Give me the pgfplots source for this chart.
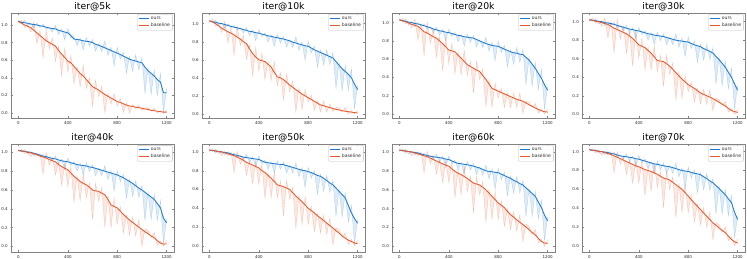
\documentclass[border=0pt]{standalone}
\usepackage{fontspec}
\setmainfont{DejaVu Sans}
\usepackage{pgfplots}
\usepackage{pgfplotstable}
\usepgfplotslibrary{fillbetween}
\pgfplotsset{compat=1.18}
\definecolor{cours}{RGB}{28,121,205}
\definecolor{cbase}{RGB}{232,86,40}
\definecolor{cframe}{RGB}{130,130,130}

\pgfplotstableread{
x om on bm bn
0 1.04 1.058 1.04 1.02
25 1.03 1.018 1.02 1.056
50 1.025 1.055 1.00 0.97
75 1.02 0.988 0.985 0.997
100 1.01 1.022 0.97 0.92
125 1.005 0.965 0.94 1.036
150 1.00 1.021 0.91 0.785
175 0.99 0.974 0.88 0.94
200 0.985 1.012 0.85 0.625
225 0.975 0.951 0.82 0.94
250 0.965 0.974 0.80 0.725
275 0.96 0.92 0.78 0.852
300 0.955 0.995 0.76 0.585
325 0.94 0.89 0.71 0.758
350 0.93 0.955 0.67 0.42
375 0.92 0.83 0.63 0.738
400 0.91 0.96 0.59 0.465
425 0.88 0.85 0.57 0.654
450 0.84 0.87 0.53 0.33
475 0.835 0.765 0.49 0.526
500 0.83 0.85 0.45 0.30
525 0.82 0.72 0.42 0.54
550 0.815 0.86 0.38 0.28
575 0.81 0.76 0.34 0.40
600 0.80 0.835 0.30 0.075
625 0.78 0.70 0.28 0.376
650 0.77 0.785 0.26 0.185
675 0.755 0.695 0.235 0.307
700 0.74 0.82 0.21 0.0
725 0.725 0.653 0.19 0.222
750 0.71 0.75 0.17 0.10
775 0.695 0.533 0.15 0.222
800 0.68 0.744 0.13 0.08
825 0.665 0.611 0.12 0.168
850 0.645 0.693 0.105 0.005
875 0.63 0.45 0.09 0.114
900 0.61 0.642 0.08 0.0
925 0.60 0.474 0.075 0.096
950 0.59 0.662 0.065 0.047
975 0.58 0.49 0.06 0.09
1000 0.57 0.63 0.055 0.028
1025 0.52 0.22 0.045 0.06
1050 0.48 0.51 0.04 0.058
1075 0.45 0.21 0.03 0.021
1100 0.42 0.49 0.025 0.055
1125 0.38 0.20 0.02 0.0
1150 0.35 0.45 0.015 0.027
1175 0.23 0.0 0.01 0.0
1200 0.23 0.28 0.01 0.031
}\tA

\pgfplotstableread{
x om on bm bn
0 1.03 1.045 1.03 1.01
25 1.02 1.008 1.02 1.056
50 1.015 1.04 1.00 0.97
75 1.005 0.973 0.975 0.987
100 1.00 1.01 0.95 0.90
125 0.99 0.95 0.93 1.026
150 0.98 0.998 0.91 0.785
175 0.97 0.954 0.895 0.955
200 0.96 0.983 0.875 0.65
225 0.955 0.931 0.85 0.97
250 0.945 0.953 0.83 0.755
275 0.935 0.895 0.80 0.872
300 0.925 0.957 0.78 0.605
325 0.915 0.865 0.72 0.768
350 0.91 0.93 0.67 0.42
375 0.90 0.81 0.63 0.738
400 0.895 0.935 0.60 0.475
425 0.885 0.855 0.59 0.674
450 0.875 0.899 0.58 0.38
475 0.865 0.795 0.55 0.586
500 0.86 0.876 0.52 0.37
525 0.85 0.75 0.46 0.58
550 0.845 0.881 0.41 0.31
575 0.835 0.785 0.40 0.46
600 0.83 0.858 0.38 0.155
625 0.82 0.74 0.35 0.446
650 0.81 0.822 0.32 0.245
675 0.795 0.735 0.295 0.367
700 0.785 0.855 0.27 0.02
725 0.775 0.703 0.245 0.293
750 0.765 0.80 0.22 0.045
775 0.755 0.593 0.20 0.272
800 0.75 0.806 0.18 0.13
825 0.73 0.676 0.16 0.208
850 0.71 0.752 0.14 0.04
875 0.695 0.515 0.12 0.144
900 0.68 0.708 0.10 0.02
925 0.665 0.539 0.09 0.146
950 0.65 0.713 0.08 0.02
975 0.635 0.545 0.07 0.11
1000 0.62 0.68 0.06 0.024
1025 0.58 0.28 0.05 0.07
1050 0.54 0.57 0.045 0.069
1075 0.50 0.26 0.035 0.023
1100 0.47 0.54 0.03 0.07
1125 0.44 0.26 0.025 0.0
1150 0.40 0.50 0.02 0.036
1175 0.33 0.06 0.015 0.0
1200 0.27 0.32 0.01 0.038
}\tB

\pgfplotstableread{
x om on bm bn
0 1.03 1.045 1.03 1.014
25 1.02 1.008 1.02 1.047
50 1.015 1.04 1.01 0.986
75 1.005 0.973 0.995 1.004
100 1.00 1.01 0.98 0.94
125 0.99 0.95 0.97 1.04
150 0.985 1.003 0.96 0.81
175 0.975 0.959 0.93 0.99
200 0.965 0.988 0.90 0.63
225 0.955 0.931 0.885 1.005
250 0.945 0.953 0.865 0.775
275 0.93 0.89 0.845 0.917
300 0.92 0.952 0.83 0.62
325 0.91 0.86 0.80 0.848
350 0.905 0.925 0.77 0.47
375 0.895 0.805 0.735 0.843
400 0.89 0.93 0.70 0.55
425 0.88 0.85 0.69 0.774
450 0.87 0.894 0.68 0.44
475 0.86 0.79 0.645 0.681
500 0.855 0.871 0.61 0.43
525 0.845 0.745 0.575 0.695
550 0.84 0.876 0.54 0.42
575 0.835 0.785 0.52 0.58
600 0.83 0.858 0.50 0.23
625 0.815 0.735 0.48 0.576
650 0.80 0.812 0.465 0.375
675 0.785 0.725 0.42 0.492
700 0.77 0.84 0.38 0.08
725 0.76 0.688 0.33 0.378
750 0.75 0.785 0.28 0.07
775 0.745 0.583 0.265 0.337
800 0.74 0.796 0.25 0.175
825 0.725 0.671 0.235 0.283
850 0.71 0.752 0.22 0.07
875 0.695 0.515 0.205 0.229
900 0.68 0.708 0.19 0.07
925 0.67 0.544 0.175 0.231
950 0.665 0.728 0.16 0.07
975 0.655 0.565 0.15 0.23
1000 0.65 0.71 0.14 0.005
1025 0.62 0.32 0.12 0.145
1050 0.59 0.62 0.10 0.13
1075 0.545 0.305 0.085 0.07
1100 0.50 0.57 0.065 0.115
1125 0.445 0.265 0.05 0.01
1150 0.39 0.49 0.035 0.055
1175 0.32 0.05 0.025 0.0
1200 0.26 0.31 0.02 0.055
}\tC

\pgfplotstableread{
x om on bm bn
0 1.02 1.035 1.02 1.004
25 1.015 1.003 1.015 1.042
50 1.01 1.035 1.005 0.981
75 1.005 0.973 1.00 1.009
100 1.00 1.01 0.99 0.95
125 0.99 0.95 0.98 1.04
150 0.985 1.003 0.97 0.82
175 0.98 0.964 0.95 1.01
200 0.97 0.993 0.93 0.66
225 0.96 0.936 0.915 1.03
250 0.95 0.958 0.90 0.81
275 0.94 0.90 0.885 0.957
300 0.93 0.962 0.87 0.66
325 0.92 0.87 0.845 0.893
350 0.915 0.935 0.82 0.52
375 0.905 0.815 0.785 0.893
400 0.90 0.94 0.75 0.60
425 0.89 0.86 0.735 0.819
450 0.88 0.904 0.72 0.48
475 0.87 0.80 0.69 0.726
500 0.865 0.881 0.66 0.48
525 0.855 0.755 0.62 0.74
550 0.85 0.886 0.58 0.46
575 0.845 0.795 0.575 0.635
600 0.84 0.868 0.57 0.30
625 0.83 0.75 0.545 0.641
650 0.82 0.832 0.52 0.43
675 0.81 0.75 0.485 0.557
700 0.80 0.87 0.45 0.15
725 0.795 0.723 0.415 0.463
750 0.79 0.825 0.38 0.17
775 0.785 0.623 0.35 0.422
800 0.78 0.836 0.32 0.245
825 0.765 0.711 0.30 0.348
850 0.75 0.792 0.28 0.13
875 0.74 0.56 0.255 0.279
900 0.73 0.758 0.23 0.11
925 0.71 0.584 0.215 0.271
950 0.695 0.758 0.20 0.11
975 0.68 0.59 0.185 0.265
1000 0.66 0.72 0.17 0.035
1025 0.625 0.325 0.15 0.175
1050 0.59 0.62 0.13 0.16
1075 0.55 0.31 0.11 0.095
1100 0.51 0.58 0.09 0.14
1125 0.455 0.275 0.065 0.025
1150 0.40 0.50 0.04 0.06
1175 0.33 0.06 0.03 0.0
1200 0.26 0.31 0.02 0.055
}\tD

\pgfplotstableread{
x om on bm bn
0 1.02 1.032 1.02 1.004
25 1.015 1.006 1.015 1.033
50 1.01 1.03 1.01 0.986
75 1.005 0.981 1.00 1.006
100 1.00 1.008 0.995 0.955
125 0.99 0.96 0.985 1.001
150 0.98 0.994 0.975 0.955
175 0.97 0.958 0.96 0.99
200 0.96 0.978 0.95 0.77
225 0.955 0.937 0.94 1.00
250 0.945 0.951 0.925 0.865
275 0.935 0.905 0.91 0.946
300 0.93 0.962 0.90 0.76
325 0.92 0.87 0.87 0.894
350 0.91 0.93 0.85 0.65
375 0.905 0.815 0.83 0.884
400 0.90 0.94 0.815 0.64
425 0.89 0.86 0.78 0.85
450 0.88 0.904 0.745 0.465
475 0.87 0.80 0.72 0.75
500 0.865 0.881 0.69 0.48
525 0.86 0.76 0.67 0.77
550 0.855 0.891 0.655 0.515
575 0.845 0.795 0.63 0.68
600 0.84 0.868 0.60 0.285
625 0.83 0.75 0.59 0.67
650 0.82 0.832 0.585 0.48
675 0.81 0.75 0.565 0.625
700 0.80 0.86 0.55 0.20
725 0.79 0.71 0.50 0.54
750 0.78 0.81 0.44 0.195
775 0.77 0.59 0.425 0.515
800 0.76 0.808 0.41 0.235
825 0.745 0.685 0.375 0.423
850 0.73 0.766 0.34 0.14
875 0.71 0.51 0.31 0.334
900 0.69 0.714 0.28 0.12
925 0.67 0.53 0.255 0.311
950 0.645 0.699 0.23 0.11
975 0.62 0.52 0.205 0.285
1000 0.60 0.648 0.18 0.0
1025 0.575 0.275 0.155 0.185
1050 0.55 0.574 0.135 0.171
1075 0.525 0.285 0.11 0.092
1100 0.50 0.556 0.09 0.15
1125 0.455 0.275 0.06 0.012
1150 0.41 0.49 0.035 0.059
1175 0.30 0.03 0.025 0.0
1200 0.25 0.29 0.025 0.067
}\tE

\pgfplotstableread{
x om on bm bn
0 1.02 1.032 1.02 1.004
25 1.015 1.006 1.015 1.033
50 1.01 1.03 1.01 0.986
75 1.005 0.981 1.005 1.011
100 1.00 1.008 1.00 0.96
125 0.995 0.965 0.99 1.006
150 0.99 1.004 0.98 0.96
175 0.98 0.968 0.97 1.00
200 0.97 0.988 0.96 0.78
225 0.965 0.947 0.945 1.005
250 0.955 0.961 0.93 0.87
275 0.945 0.915 0.91 0.946
300 0.94 0.972 0.89 0.75
325 0.935 0.885 0.875 0.899
350 0.93 0.95 0.86 0.66
375 0.925 0.835 0.845 0.899
400 0.92 0.96 0.83 0.655
425 0.905 0.875 0.80 0.87
450 0.89 0.914 0.78 0.50
475 0.885 0.815 0.75 0.78
500 0.88 0.896 0.72 0.51
525 0.875 0.775 0.685 0.785
550 0.87 0.906 0.65 0.51
575 0.868 0.818 0.64 0.69
600 0.865 0.893 0.63 0.315
625 0.855 0.775 0.615 0.695
650 0.845 0.857 0.60 0.495
675 0.835 0.775 0.565 0.625
700 0.825 0.885 0.53 0.18
725 0.815 0.735 0.50 0.54
750 0.805 0.835 0.47 0.225
775 0.80 0.62 0.435 0.525
800 0.79 0.838 0.40 0.225
825 0.78 0.72 0.375 0.423
850 0.765 0.801 0.35 0.15
875 0.75 0.55 0.32 0.344
900 0.74 0.764 0.295 0.135
925 0.72 0.58 0.27 0.326
950 0.695 0.749 0.24 0.12
975 0.67 0.57 0.215 0.295
1000 0.65 0.698 0.19 0.01
1025 0.615 0.315 0.16 0.19
1050 0.58 0.604 0.135 0.171
1075 0.545 0.305 0.105 0.087
1100 0.51 0.566 0.08 0.14
1125 0.43 0.25 0.06 0.012
1150 0.35 0.43 0.045 0.069
1175 0.29 0.02 0.03 0.0
1200 0.24 0.28 0.02 0.062
}\tF

\pgfplotstableread{
x om on bm bn
0 1.02 1.032 1.02 1.004
25 1.015 1.006 1.015 1.033
50 1.01 1.03 1.01 0.986
75 1.005 0.981 1.005 1.011
100 1.00 1.008 1.00 0.96
125 0.995 0.965 0.99 1.006
150 0.99 1.004 0.98 0.96
175 0.98 0.968 0.97 1.00
200 0.97 0.988 0.96 0.78
225 0.965 0.947 0.95 1.01
250 0.955 0.961 0.935 0.875
275 0.95 0.92 0.92 0.956
300 0.945 0.977 0.905 0.765
325 0.94 0.89 0.89 0.914
350 0.935 0.955 0.875 0.675
375 0.925 0.835 0.86 0.914
400 0.92 0.96 0.85 0.675
425 0.905 0.875 0.82 0.89
450 0.89 0.914 0.795 0.515
475 0.88 0.81 0.775 0.805
500 0.875 0.891 0.76 0.55
525 0.87 0.77 0.74 0.84
550 0.865 0.901 0.72 0.58
575 0.858 0.808 0.695 0.745
600 0.85 0.878 0.67 0.355
625 0.84 0.76 0.66 0.74
650 0.83 0.842 0.65 0.545
675 0.815 0.755 0.625 0.685
700 0.80 0.86 0.60 0.25
725 0.795 0.715 0.565 0.605
750 0.79 0.82 0.53 0.285
775 0.785 0.605 0.495 0.585
800 0.78 0.828 0.46 0.285
825 0.765 0.705 0.435 0.483
850 0.75 0.786 0.41 0.21
875 0.735 0.535 0.37 0.394
900 0.72 0.744 0.335 0.175
925 0.70 0.56 0.31 0.366
950 0.685 0.739 0.28 0.16
975 0.665 0.565 0.255 0.335
1000 0.65 0.698 0.23 0.05
1025 0.62 0.32 0.205 0.235
1050 0.59 0.614 0.175 0.211
1075 0.56 0.32 0.145 0.127
1100 0.53 0.586 0.12 0.18
1125 0.47 0.29 0.085 0.037
1150 0.41 0.49 0.05 0.074
1175 0.33 0.06 0.035 0.0
1200 0.27 0.31 0.03 0.072
}\tG

\pgfplotstableread{
x om on bm bn
0 1.02 1.032 1.02 1.004
25 1.015 1.006 1.015 1.033
50 1.01 1.03 1.01 0.986
75 1.005 0.981 1.005 1.011
100 1.00 1.008 1.00 0.96
125 0.995 0.965 0.99 1.006
150 0.99 1.004 0.98 0.96
175 0.98 0.968 0.97 1.00
200 0.975 0.993 0.955 0.775
225 0.965 0.947 0.94 1.00
250 0.955 0.961 0.925 0.865
275 0.95 0.92 0.91 0.946
300 0.945 0.977 0.895 0.755
325 0.94 0.89 0.88 0.904
350 0.935 0.955 0.865 0.665
375 0.925 0.835 0.85 0.904
400 0.92 0.96 0.84 0.665
425 0.91 0.88 0.825 0.895
450 0.90 0.924 0.81 0.53
475 0.89 0.82 0.80 0.83
500 0.88 0.896 0.79 0.58
525 0.87 0.77 0.775 0.875
550 0.865 0.901 0.76 0.62
575 0.858 0.808 0.74 0.79
600 0.85 0.878 0.72 0.405
625 0.845 0.765 0.71 0.79
650 0.84 0.852 0.70 0.595
675 0.83 0.77 0.675 0.735
700 0.82 0.88 0.65 0.30
725 0.81 0.73 0.625 0.665
750 0.80 0.83 0.60 0.355
775 0.795 0.615 0.565 0.655
800 0.79 0.838 0.53 0.355
825 0.78 0.72 0.49 0.538
850 0.77 0.806 0.455 0.255
875 0.765 0.565 0.42 0.444
900 0.755 0.779 0.385 0.225
925 0.735 0.595 0.35 0.406
950 0.715 0.769 0.315 0.195
975 0.69 0.59 0.28 0.36
1000 0.67 0.718 0.245 0.065
1025 0.64 0.34 0.22 0.25
1050 0.61 0.634 0.19 0.226
1075 0.575 0.335 0.165 0.147
1100 0.545 0.601 0.14 0.20
1125 0.50 0.32 0.105 0.057
1150 0.46 0.54 0.07 0.094
1175 0.36 0.09 0.045 0.0
1200 0.28 0.32 0.03 0.072
}\tH

\pgfplotsset{
  panel/.style={
    scale only axis, width=163bp,
    xmin=-60, xmax=1260,
    xtick={0,400,800,1200}, ytick={0,0.2,0.4,0.6,0.8,1.0},
    tick align=inside, tick pos=both,
    major tick length=2bp,
    every tick/.style={cframe, line width=0.4bp},
    axis line style={cframe, line width=0.6bp},
    /pgf/number format/assume math mode=true,
    /pgf/number format/1000 sep={},
    ticklabel style={font=\fontsize{4}{4.5}\selectfont, text=black!85},
    yticklabel style={/pgf/number format/fixed, /pgf/number format/fixed zerofill, /pgf/number format/precision=1, xshift=0.3bp},
    xticklabel style={yshift=0.3bp},
    title style={font=\fontsize{9.3}{10}\selectfont, inner sep=1bp, yshift=-5.8pt},
    legend style={at={(1,1)}, anchor=north east, xshift=-1.5bp, yshift=-1.2bp,
      font=\fontsize{4.6}{5}\selectfont, text=black!80, draw=black!25, line width=0.3bp,
      rounded corners=0.8bp, inner sep=1.3bp, row sep=0.3bp,
      nodes={inner sep=1bp}},
    legend image code/.code={\draw[##1] (0bp,0bp) -- (10bp,0bp);},
    legend cell align=left,
  },
  noise/.style={line width=0.35bp, opacity=0.3, forget plot},
  band/.style={draw=none, fill opacity=0.14, forget plot},
  mainl/.style={line width=0.85bp, forget plot},
}

\newcommand{\drawpanel}[7]{%
\begin{axis}[panel, at={(#1,#2)}, anchor=south west, height=#3,
    ymin=#6, ymax=#7, title={#5}]
  \addplot[draw=none, forget plot, name path=pon] table[x=x, y=on] {#4};
  \addplot[draw=none, forget plot, name path=pom] table[x=x, y=om] {#4};
  \addplot[draw=none, forget plot, name path=pbn] table[x=x, y=bn] {#4};
  \addplot[draw=none, forget plot, name path=pbm] table[x=x, y=bm] {#4};
  \addplot[band, fill=cours] fill between[of=pon and pom];
  \addplot[band, fill=cbase] fill between[of=pbn and pbm];
  \addplot[cours, noise] table[x=x, y=on] {#4};
  \addplot[cbase, noise] table[x=x, y=bn] {#4};
  \addplot[cours, mainl] table[x=x, y=om] {#4};
  \addplot[cbase, mainl] table[x=x, y=bm] {#4};
  \addlegendimage{draw=cours, line width=1bp}
  \addlegendentry{ours}
  \addlegendimage{draw=cbase, line width=1bp}
  \addlegendentry{baseline}
\end{axis}}

\begin{document}
\begin{tikzpicture}[x=1bp, y=1bp]
\drawpanel{11bp}{140bp}{105bp}{\tA}{iter@5k}{-0.057}{1.136}
\drawpanel{202bp}{140bp}{105bp}{\tB}{iter@10k}{-0.045}{1.118}
\drawpanel{392bp}{140bp}{105bp}{\tC}{iter@20k}{-0.044}{1.105}
\drawpanel{582bp}{140bp}{105bp}{\tD}{iter@30k}{-0.04}{1.094}
\drawpanel{11bp}{6bp}{108bp}{\tE}{iter@40k}{-0.06}{1.089}
\drawpanel{202bp}{6bp}{108bp}{\tF}{iter@50k}{-0.067}{1.085}
\drawpanel{392bp}{6bp}{108bp}{\tG}{iter@60k}{-0.061}{1.085}
\drawpanel{582bp}{6bp}{108bp}{\tH}{iter@70k}{-0.064}{1.081}
\pgfresetboundingbox
\path[use as bounding box] (0,0) rectangle (747,258);
\end{tikzpicture}
\end{document}
